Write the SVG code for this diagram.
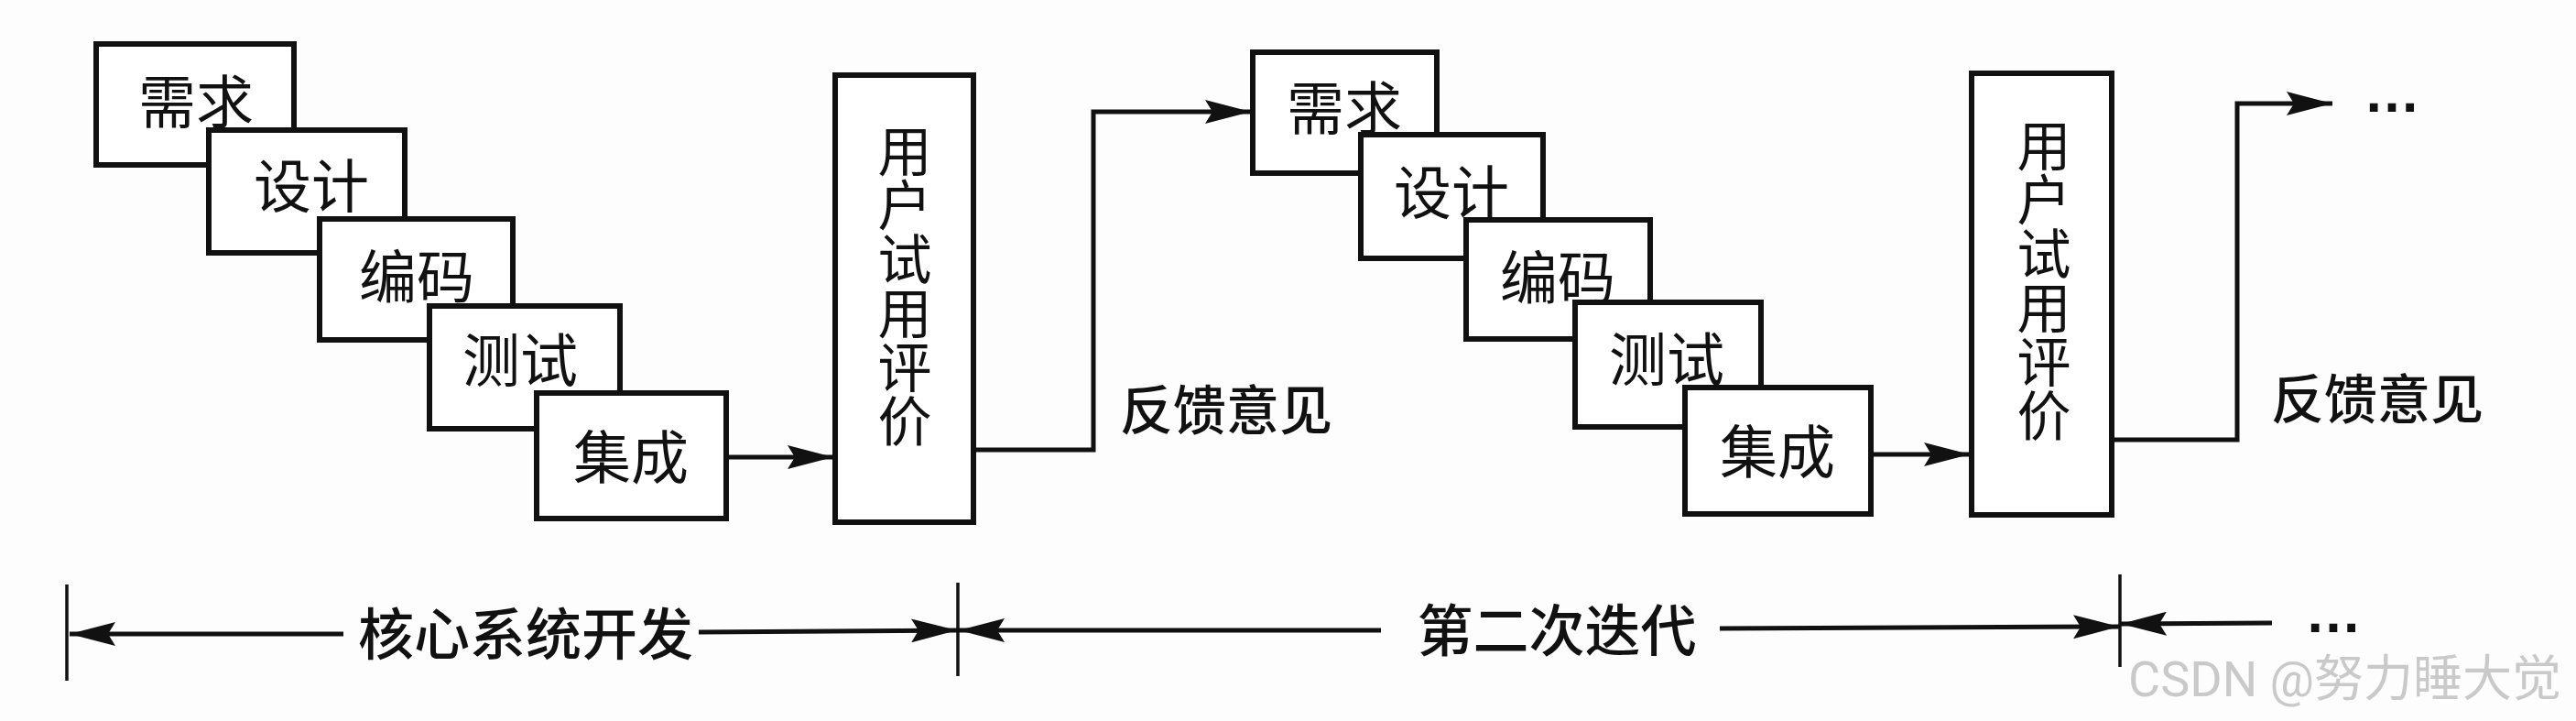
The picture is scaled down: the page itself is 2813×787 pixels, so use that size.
<svg xmlns="http://www.w3.org/2000/svg" width="2813" height="787" viewBox="0 0 2813 787">
<style>
.box{fill:#fff;stroke:#111;stroke-width:6}
.t{font-family:"Noto Sans CJK SC","Liberation Sans",sans-serif;font-size:63px;fill:#111;text-anchor:middle;dominant-baseline:central}
.v{font-family:"Noto Sans CJK SC","Liberation Sans",sans-serif;font-size:59px;fill:#111;text-anchor:middle;writing-mode:vertical-rl}
.lbl{font-family:"Noto Sans CJK SC","Liberation Sans",sans-serif;font-size:58px;fill:#111;text-anchor:middle;dominant-baseline:central;font-weight:500}
.ln{fill:none;stroke:#111;stroke-width:5}
.tick{fill:none;stroke:#111;stroke-width:3.5}
.wm{font-family:"Roboto","Noto Sans CJK SC",sans-serif;font-size:54px;fill:#c9c9c9}
</style>
<defs>
<marker id="ah" markerUnits="userSpaceOnUse" markerWidth="52" markerHeight="26" refX="50" refY="13" orient="auto-start-reverse">
<path d="M0,0 L50,13 L0,26 L8,13 z" fill="#111"/>
</marker>
</defs>
<rect width="2813" height="787" fill="#fdfdfd"/>

<g id="req1"><rect class="box" x="105" y="48" width="216" height="132"/><text class="t" x="214" y="106">需求</text></g>
<g id="des1"><rect class="box" x="228" y="142" width="214" height="134"/><text class="t" x="340" y="198">设计</text></g>
<g id="cod1"><rect class="box" x="349" y="239" width="211" height="132"/><text class="t" x="455" y="297">编码</text></g>
<g id="tst1"><rect class="box" x="469" y="334" width="208" height="134"/><text class="t" x="568" y="388">测试</text></g>
<g id="int1"><rect class="box" x="586" y="429" width="207" height="137"/><text class="t" x="689" y="494">集成</text></g>
<g id="user1"><rect class="box" x="912" y="82" width="151" height="488"/>
<text class="v" x="988" y="312">用户试用评价</text></g>

<g id="req2"><rect class="box" x="1368" y="57" width="201" height="132"/><text class="t" x="1468" y="113">需求</text></g>
<g id="des2"><rect class="box" x="1486" y="147" width="199" height="135"/><text class="t" x="1585" y="205">设计</text></g>
<g id="cod2"><rect class="box" x="1601" y="240" width="201" height="130"/><text class="t" x="1701" y="298">编码</text></g>
<g id="tst2"><rect class="box" x="1720" y="330" width="203" height="136"/><text class="t" x="1820" y="387">测试</text></g>
<g id="int2"><rect class="box" x="1840" y="423" width="203" height="138"/><text class="t" x="1941" y="488">集成</text></g>
<g id="user2"><rect class="box" x="2153" y="80" width="153" height="482"/>
<text class="v" x="2232" y="306">用户试用评价</text></g>

<g id="connectors">
<path class="ln" d="M793,499 L910,499" marker-end="url(#ah)"/>
<path class="ln" d="M1063,491 L1194,491 L1194,122 L1366,122" marker-end="url(#ah)"/>
<path class="ln" d="M2043,496 L2151,496" marker-end="url(#ah)"/>
<path class="ln" d="M2306,480 L2443,480 L2443,113 L2547,113" marker-end="url(#ah)"/>
<path class="tick" d="M73,638 L73,743"/>
<path class="tick" d="M1046,636 L1046,738"/>
<path class="tick" d="M2315,627 L2315,728"/>
<path class="ln" d="M76,692 L375,692" marker-start="url(#ah)"/>
<path class="ln" d="M763,690 L1045,688" marker-end="url(#ah)"/>
<path class="ln" d="M1047,688 L1508,688" marker-start="url(#ah)"/>
<path class="ln" d="M1878,686 L2314,684" marker-end="url(#ah)"/>
<path class="ln" d="M2316,681 L2481,680" marker-start="url(#ah)"/>
</g>

<text class="lbl" x="1339" y="444">反馈意见</text>
<text class="lbl" x="2596" y="432">反馈意见</text>
<text class="lbl" x="574" y="688" style="font-size:61px">核心系统开发</text>
<text class="lbl" x="1700" y="684" style="font-size:61px">第二次迭代</text>
<text x="2581" y="122" style="font-family:'Liberation Sans',sans-serif;font-size:62px;font-weight:bold;fill:#111">…</text>
<text x="2517" y="690" style="font-family:'Liberation Sans',sans-serif;font-size:62px;font-weight:bold;fill:#111">…</text>
<text class="wm" x="2324" y="760">CSDN @努力睡大觉</text>
</svg>
